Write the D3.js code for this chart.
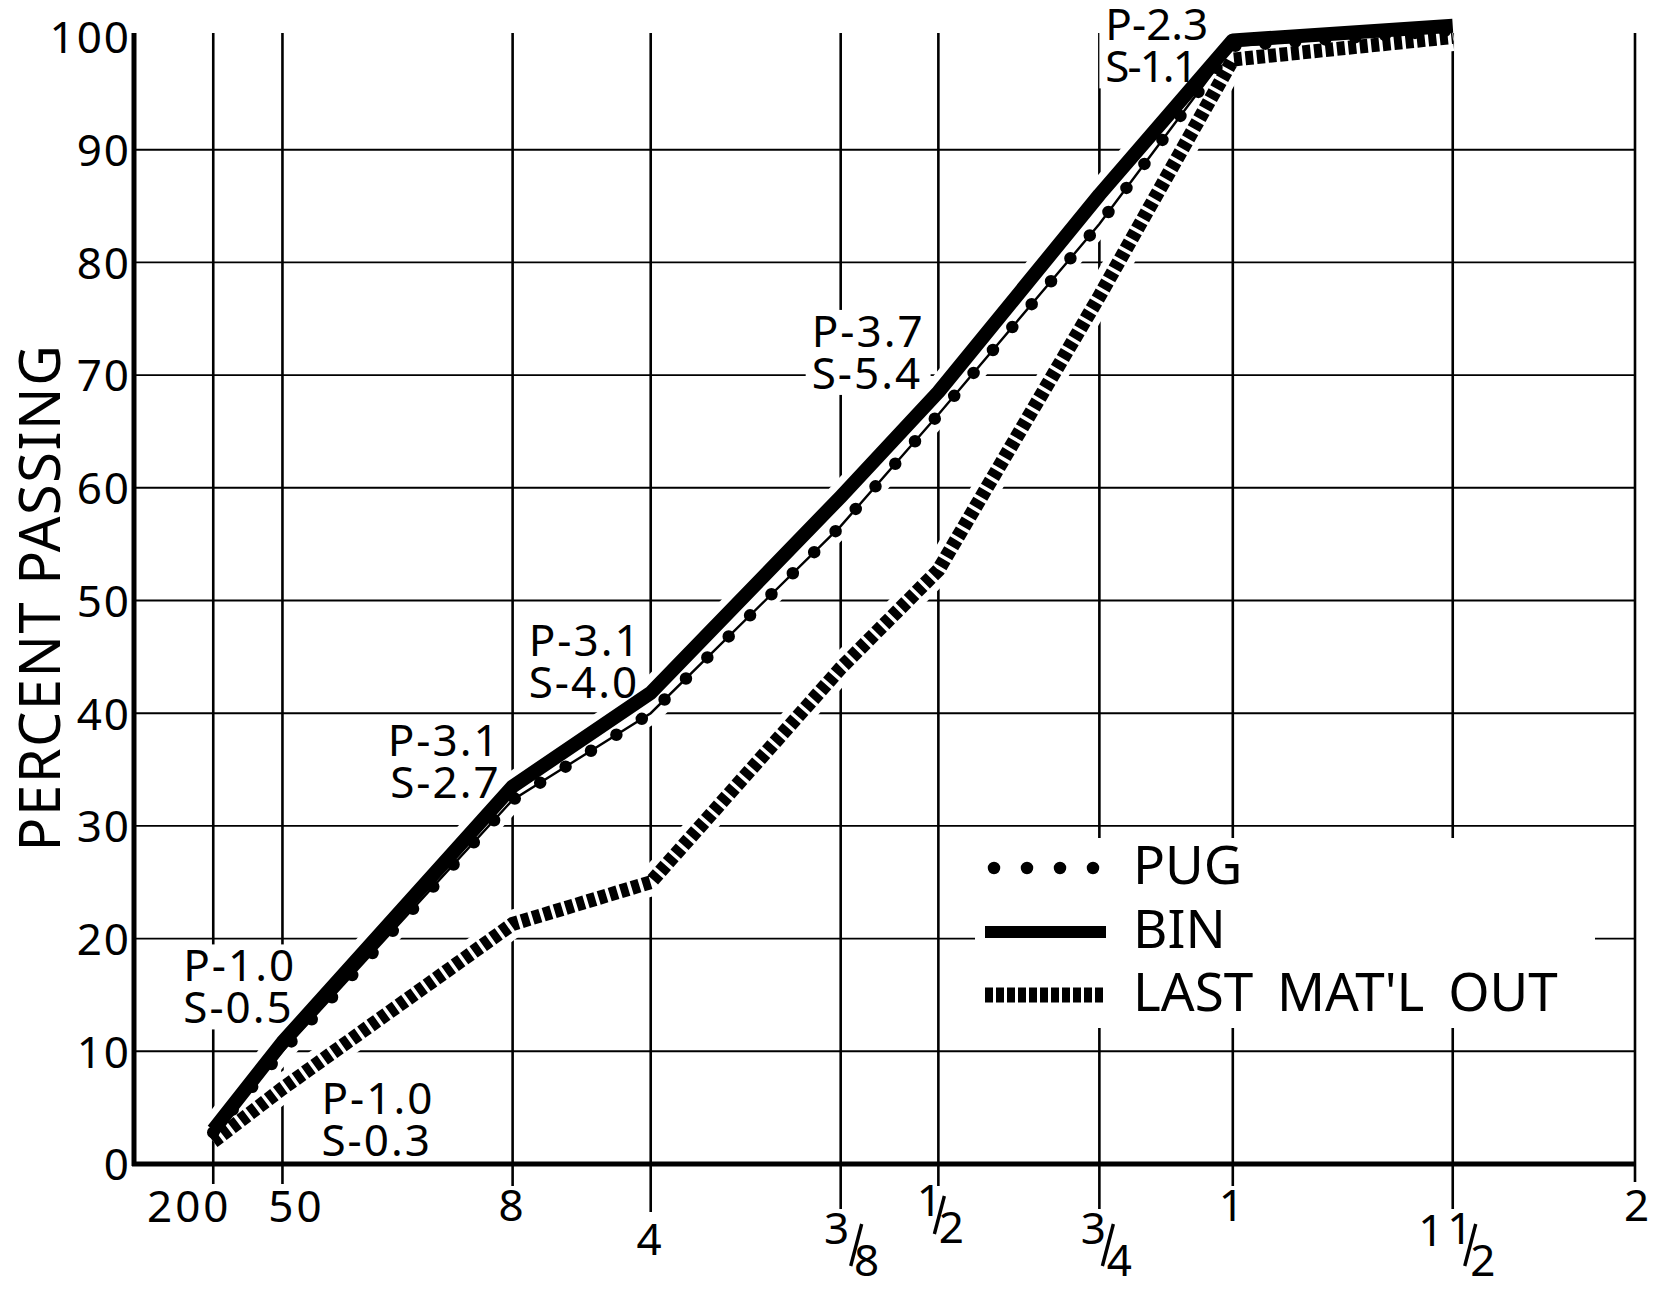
<!DOCTYPE html>
<html>
<head>
<meta charset="utf-8">
<script src="https://cdn.jsdelivr.net/npm/d3@7"></script>
<style>
  body { margin: 0; background: #fff; }
  svg text { font-family: "Noto Sans", sans-serif; fill: #000; }
</style>
</head>
<body>
<div id="chart"></div>
<script>
// sieve openings in inches (x axis is drawn to the 0.45 power)
var sieveLabels = ["200", "50", "8", "4", "3/8", "1/2", "3/4", "1", "1 1/2", "2"];
var sieveSizes = [0.0029, 0.0117, 0.0937, 0.187, 0.375, 0.5, 0.75, 1, 1.5, 2];
var yTicks = [0, 10, 20, 30, 40, 50, 60, 70, 80, 90, 100];

// percent passing at 200 .. 1 1/2
var pugValues = [2.8, 10.0, 32.3, 40.0, 56.6, 66.5, 83.4, 99.2, 100.6];
var binValues = [3.0, 10.8, 33.5, 41.8, 59.2, 68.5, 86.0, 99.7, 101.0];
var lastValues = [2.0, 6.7, 21.3, 25.0, 44.0, 52.7, 77.0, 98.0, 100.0];

var noteText = [["P-1.0", "S-0.5"], ["P-1.0", "S-0.3"], ["P-3.1", "S-2.7"],
                ["P-3.1", "S-4.0"], ["P-3.7", "S-5.4"], ["P-2.3", "S-1.1"]];
var noteSieve = [0, 1, 2, 3, 4, 6];      // sieve the note sits by
var notePct = [16.2, 4.4, 36.2, 45.1, 72.5, 99.7];   // baseline of first line

var legendNames = ["PUG", "BIN", "LAST MAT'L OUT"];

// layout / styling
var W = 1658, H = 1289;
var fs = 44, capH = 31;
var tickLen = [20, 20, 22, 48, 45, 22, 45, 22, 45, 18];
var noteDx = [-30, 39, -12, -122, -29, 6];
var noteAnchor = ["start", "start", "end", "start", "start", "start"];
var noteSpacing = [[2, 2], [2, 2], [2, 2], [2, 2], [2, 2], [0, -2]];

var svg = d3.select("#chart").append("svg")
  .attr("width", W)
  .attr("height", H);

var x = d3.scalePow().exponent(0.45)
  .domain([0, 2])
  .range([134, 1635]);

var y = d3.scaleLinear()
  .domain([0, 100])
  .range([1164, 37]);

var gridG = svg.append("g");
var boxG = svg.append("g");
var haloG = svg.append("g");
var curveG = svg.append("g");
var textG = svg.append("g");

// grid
gridG.selectAll(".vgrid")
  .data(sieveSizes)
  .join("line")
  .attr("class", "vgrid")
  .attr("x1", function(d) { return x(d) })
  .attr("x2", function(d) { return x(d) })
  .attr("y1", y(100) - 4)
  .attr("y2", function(d, i) { return y(0) + tickLen[i] })
  .attr("stroke", "#000")
  .attr("stroke-width", 2.6);

gridG.selectAll(".hgrid")
  .data(yTicks.slice(1, -1))
  .join("line")
  .attr("class", "hgrid")
  .attr("x1", x(0))
  .attr("x2", x(2))
  .attr("y1", function(d) { return y(d) })
  .attr("y2", function(d) { return y(d) })
  .attr("stroke", "#000")
  .attr("stroke-width", 1.9);

// y axis labels
var yAxis = d3.axisLeft(y).tickValues(yTicks).tickSize(0).tickPadding(3);
var yg = svg.append("g")
  .attr("transform", "translate(" + x(0) + ",0)")
  .call(yAxis);
yg.select(".domain").remove();
yg.selectAll("text")
  .attr("font-family", "Noto Sans")
  .attr("font-size", fs)
  .attr("letter-spacing", 2)
  .attr("dy", "0.36em");

// axis lines
svg.append("line")
  .attr("x1", x(0)).attr("x2", x(0))
  .attr("y1", y(100) - 4).attr("y2", y(0) + 2)
  .attr("stroke", "#000").attr("stroke-width", 5);
svg.append("line")
  .attr("x1", x(0) - 2).attr("x2", x(2) + 1)
  .attr("y1", y(0)).attr("y2", y(0))
  .attr("stroke", "#000").attr("stroke-width", 5);

// y title
svg.append("text")
  .attr("transform", "translate(60," + ((y(0) + y(100)) / 2 - 3) + ") rotate(-90)")
  .attr("text-anchor", "middle")
  .attr("font-size", 56)
  .attr("letter-spacing", 1.5)
  .text("PERCENT PASSING");

// x labels
function plainLabel(i, dx, base) {
  svg.append("text")
    .attr("x", x(sieveSizes[i]) + dx)
    .attr("y", base)
    .attr("text-anchor", "middle")
    .attr("font-size", fs)
    .attr("letter-spacing", 3)
    .text(sieveLabels[i]);
}
// fraction: centres of numerator / denominator, baselines, slash ends, optional whole part
function fracLabel(i, f) {
  var L = x(sieveSizes[i]);
  var parts = sieveLabels[i].split(" ");
  var fr = parts[parts.length - 1].split("/");
  var g = svg.append("g").attr("font-size", fs).attr("text-anchor", "middle");
  if (parts.length > 1) {
    g.append("text").attr("x", L + f.whole).attr("y", f.nb + 2).text(parts[0]);
  }
  g.append("text").attr("x", L + f.num).attr("y", f.nb).text(fr[0]);
  g.append("text").attr("x", L + f.den).attr("y", f.db).text(fr[1]);
  g.append("line")
    .attr("x1", L + f.s[0]).attr("y1", f.s[1])
    .attr("x2", L + f.s[2]).attr("y2", f.s[3])
    .attr("stroke", "#000").attr("stroke-width", 3.4);
}
plainLabel(0, -24, 1222);
plainLabel(1, 14, 1222);
plainLabel(2, 0, 1221);
plainLabel(3, 0, 1255);
fracLabel(4, { num: -4, den: 26, nb: 1244, db: 1276, s: [10, 1266, 21, 1224] });
fracLabel(5, { num: -9, den: 13, nb: 1216, db: 1243, s: [-4, 1234, 6, 1196] });
fracLabel(6, { num: -6, den: 20, nb: 1244, db: 1276, s: [3, 1266, 14, 1224] });
plainLabel(7, 0, 1221);
fracLabel(8, { num: 7, den: 30, nb: 1244, db: 1276, s: [12, 1266, 23, 1224], whole: -22 });
plainLabel(9, 3, 1221);

// notes with white boxes that break the grid
noteText.forEach(function(lines, k) {
  var base = y(notePct[k]);
  var t = textG.append("text")
    .attr("font-size", fs)
    .attr("text-anchor", noteAnchor[k]);
  lines.forEach(function(s, j) {
    t.append("tspan")
      .attr("x", x(sieveSizes[noteSieve[k]]) + noteDx[k])
      .attr("y", base + j * 42)
      .attr("letter-spacing", noteSpacing[k][j])
      .text(s);
  });
  var b = t.node().getBBox();
  var top = base - capH - 6;
  boxG.append("rect")
    .attr("x", b.x - 6).attr("y", top)
    .attr("width", b.width + 12)
    .attr("height", base + 42 * (lines.length - 1) + 6 - top)
    .attr("fill", "#fff");
});

// curves
var line = d3.line()
  .x(function(d, i) { return x(sieveSizes[i]) })
  .y(function(d) { return y(d) });

var series = [
  { key: "last", values: lastValues },
  { key: "pug", values: pugValues },
  { key: "bin", values: binValues }
];

series.forEach(function(s) {
  haloG.append("path")
    .attr("d", line(s.values))
    .attr("fill", "none")
    .attr("stroke", "#fff")
    .attr("stroke-width", s.key == "pug" ? 22 : 28)
    .attr("stroke-linejoin", "round");
});

curveG.append("path")
  .attr("d", line(lastValues))
  .attr("fill", "none")
  .attr("stroke", "#000")
  .attr("stroke-width", 14)
  .attr("stroke-dasharray", "8 3.5");

curveG.append("path")
  .attr("d", line(pugValues))
  .attr("fill", "none")
  .attr("stroke", "#000")
  .attr("stroke-width", 2.4);
curveG.append("path")
  .attr("d", line(pugValues))
  .attr("fill", "none")
  .attr("stroke", "#000")
  .attr("stroke-width", 12.5)
  .attr("stroke-linecap", "round")
  .attr("stroke-dasharray", "0 30");

curveG.append("path")
  .attr("d", line(binValues))
  .attr("fill", "none")
  .attr("stroke", "#000")
  .attr("stroke-width", 14)
  .attr("stroke-linejoin", "round");

// legend
var lg = svg.append("g");
boxG.append("rect")
  .attr("x", 975).attr("y", 838)
  .attr("width", 620).attr("height", 190)
  .attr("fill", "#fff");
var rowY = [868, 932, 995];
lg.append("line")
  .attr("x1", 994).attr("x2", 1094).attr("y1", rowY[0]).attr("y2", rowY[0])
  .attr("stroke", "#000").attr("stroke-width", 12.5)
  .attr("stroke-linecap", "round").attr("stroke-dasharray", "0 33");
lg.append("line")
  .attr("x1", 985).attr("x2", 1106).attr("y1", rowY[1]).attr("y2", rowY[1])
  .attr("stroke", "#000").attr("stroke-width", 12);
lg.append("line")
  .attr("x1", 985).attr("x2", 1106).attr("y1", rowY[2]).attr("y2", rowY[2])
  .attr("stroke", "#000").attr("stroke-width", 15)
  .attr("stroke-dasharray", "8 3");
lg.selectAll("text")
  .data(legendNames)
  .join("text")
  .attr("x", 1133)
  .attr("y", function(d, i) { return rowY[i] + 16 })
  .attr("font-size", 53)
  .attr("word-spacing", 10)
  .text(function(d) { return d });
</script>
</body>
</html>
